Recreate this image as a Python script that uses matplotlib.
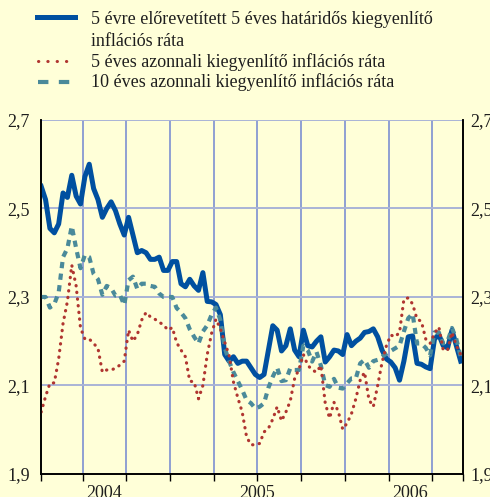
import numpy as np
import matplotlib
matplotlib.use("Agg")
import matplotlib.pyplot as plt
from matplotlib.lines import Line2D

plt.rcParams['font.family'] = ['Liberation Serif', 'DejaVu Serif']

# ---- data (sampled every 1/35 year starting early Feb 2004) ----
T_START = 2004.0857
T_STEP = 1 / 35.0

forward_5y5y = [
    2.55, 2.52, 2.455, 2.445, 2.465, 2.535, 2.525, 2.575, 2.528, 2.51,
    2.572, 2.60, 2.545, 2.52, 2.48, 2.50, 2.515, 2.495, 2.465, 2.44,
    2.48, 2.44, 2.40, 2.405, 2.40, 2.385, 2.385, 2.39, 2.36, 2.36,
    2.38, 2.38, 2.33, 2.323, 2.34, 2.325, 2.315, 2.355, 2.29, 2.289,
    2.283, 2.26, 2.17, 2.155, 2.165, 2.15, 2.155, 2.155, 2.14, 2.125,
    2.118, 2.125, 2.18, 2.235, 2.225, 2.178, 2.19, 2.228, 2.18, 2.165,
    2.225, 2.19, 2.187, 2.20, 2.21, 2.153, 2.165, 2.18, 2.178, 2.17,
    2.215, 2.19, 2.20, 2.207, 2.22, 2.222, 2.228, 2.21, 2.18, 2.16,
    2.153, 2.14, 2.112, 2.155, 2.21, 2.212, 2.15, 2.148, 2.142, 2.138,
    2.205, 2.215, 2.19, 2.185, 2.225, 2.19, 2.155,
]

spot_5y = [
    2.04, 2.075, 2.105, 2.106, 2.16, 2.24, 2.29, 2.372, 2.325, 2.23,
    2.205, 2.205, 2.195, 2.184, 2.13, 2.135, 2.135, 2.139, 2.146, 2.155,
    2.225, 2.20, 2.215, 2.248, 2.265, 2.255, 2.25, 2.243, 2.237, 2.225,
    2.231, 2.197, 2.18, 2.165, 2.11, 2.108, 2.07, 2.10, 2.17, 2.218,
    2.25, 2.228, 2.198, 2.168, 2.108, 2.072, 2.04, 1.984, 1.966, 1.966,
    1.969, 1.995, 2.003, 2.024, 2.052, 2.02, 2.04, 2.065, 2.116, 2.137,
    2.17, 2.146, 2.135, 2.13, 2.145, 2.06, 2.026, 2.062, 2.041, 2.001,
    2.015, 2.036, 2.07, 2.112, 2.13, 2.068, 2.052, 2.10, 2.152, 2.19,
    2.214, 2.21, 2.22, 2.295, 2.298, 2.284, 2.25, 2.245, 2.205, 2.195,
    2.218, 2.232, 2.18, 2.18, 2.22, 2.19, 2.17,
]

spot_10y = [
    2.30, 2.30, 2.276, 2.284, 2.31, 2.39, 2.41, 2.46, 2.41, 2.365,
    2.395, 2.39, 2.352, 2.34, 2.305, 2.325, 2.32, 2.303, 2.305, 2.282,
    2.338, 2.346, 2.318, 2.33, 2.33, 2.325, 2.323, 2.308, 2.30, 2.30,
    2.30, 2.275, 2.265, 2.252, 2.227, 2.21, 2.195, 2.222, 2.236, 2.26,
    2.276, 2.248, 2.185, 2.155, 2.13, 2.11, 2.09, 2.067, 2.06, 2.048,
    2.052, 2.06, 2.095, 2.12, 2.14, 2.11, 2.112, 2.139, 2.135, 2.135,
    2.19, 2.18, 2.154, 2.176, 2.145, 2.101, 2.097, 2.115, 2.095, 2.093,
    2.105, 2.116, 2.116, 2.15, 2.158, 2.14, 2.155, 2.158, 2.165, 2.172,
    2.178, 2.184, 2.19, 2.222, 2.252, 2.262, 2.195, 2.195, 2.185, 2.168,
    2.22, 2.22, 2.195, 2.20, 2.23, 2.205, 2.165,
]

labels = [
    "5 évre előrevetített 5 éves határidős kiegyenlítő\ninflációs ráta",
    "5 éves azonnali kiegyenlítő inflációs ráta",
    "10 éves azonnali kiegyenlítő inflációs ráta",
]
year_labels = ["2004", "2005", "2006"]
year_pos = [2004.5, 2005.5, 2006.5]
y_ticks = [1.9, 2.1, 2.3, 2.5, 2.7]

# ---- styling ----
BG = "#FFFFD8"
BLUE = "#0050A0"
RED = "#B03530"
TEAL = "#4A8A9A"
GRID = "#8FA0D2"
TXT = "#1E1E1E"

fig = plt.figure(figsize=(4.9, 4.97), dpi=100, facecolor=BG)
ax = fig.add_axes([0.0837, 0.0463, 0.8618, 0.7123], facecolor=BG)
ax.xaxis.remove_overlapping_locs = False

t = T_START + np.arange(len(forward_5y5y)) * T_STEP

ax.plot(t, forward_5y5y, color=BLUE, lw=3.6, solid_joinstyle='round', zorder=3)
ax.plot(t, spot_10y, color=TEAL, lw=3.0, linestyle=(0, (1.5, 1.3)), zorder=4)
ax.plot(t, spot_5y, color=RED, lw=2.3, linestyle=(0, (0.1, 2.0)),
        dash_capstyle='round', zorder=5)

x_min = 2004.0846
x_max = 2006.8455
ax.set_xlim(x_min, x_max)
ax.set_ylim(1.9, 2.7)

grid_x = np.arange(2004 + 1.25 / 3.5, x_max - 0.01, 1 / 3.5)
for gx in grid_x:
    ax.axvline(gx, color=GRID, lw=1.4, zorder=1)
for gy in y_ticks[1:]:
    ax.axhline(gy, color="#A9B3D6", lw=1.4, zorder=1)

# x ticks: marks at grid lines, year labels in between
ax.set_xticks(list(grid_x) + [x_min, x_max])
ax.set_xticklabels([])
ax.tick_params(axis='x', which='major', direction='out', length=5, width=1, color='black')
ax.set_xticks(year_pos, minor=True)
ax.set_xticklabels(year_labels, minor=True)
ax.tick_params(axis='x', which='minor', length=0, pad=8, labelsize=13, labelcolor=TXT)

# y ticks left
ytl = [f"{v:.1f}".replace('.', ',') for v in y_ticks]
ax.set_yticks(y_ticks)
ax.set_yticklabels(ytl)
ax.tick_params(axis='y', length=0, labelsize=13, pad=8, labelcolor=TXT)

# y ticks right
ax2 = ax.twinx()
ax2.set_ylim(1.9, 2.7)
ax2.set_yticks(y_ticks)
ax2.set_yticklabels(ytl)
ax2.tick_params(axis='y', length=0, labelsize=13, pad=5, labelcolor=TXT)
for a in (ax, ax2):
    a.spines['top'].set_visible(False)
    for s in ['left', 'right', 'bottom']:
        a.spines[s].set_color('black')
        a.spines[s].set_linewidth(1.2)

# ---- legend (manual) ----
W, H = 490.0, 497.0
def fx(px):
    return px / W
def fy(py):
    return 1 - py / H

fig.add_artist(Line2D([fx(37), fx(75)], [fy(17), fy(17)], color=BLUE, lw=3.6,
                      transform=fig.transFigure))
fig.add_artist(Line2D([fx(38), fx(75)], [fy(61), fy(61)], color=RED, lw=2.2,
                      linestyle=(0, (0.1, 2.95)), dash_capstyle='round',
                      transform=fig.transFigure))
fig.add_artist(Line2D([fx(38), fx(76)], [fy(82), fy(82)], color=TEAL, lw=3.0,
                      linestyle=(0, (2.5, 2.5)), transform=fig.transFigure))

first, second = labels[0].split("\n")
fig.text(fx(91), fy(20), first, fontsize=13, va='center', ha='left', color=TXT)
fig.text(fx(91), fy(41), second, fontsize=13, va='center', ha='left', color=TXT)
fig.text(fx(91), fy(62), labels[1], fontsize=13, va='center', ha='left', color=TXT)
fig.text(fx(91), fy(82), labels[2], fontsize=13, va='center', ha='left', color=TXT)

fig.savefig("out.png", dpi=100, facecolor=BG)
